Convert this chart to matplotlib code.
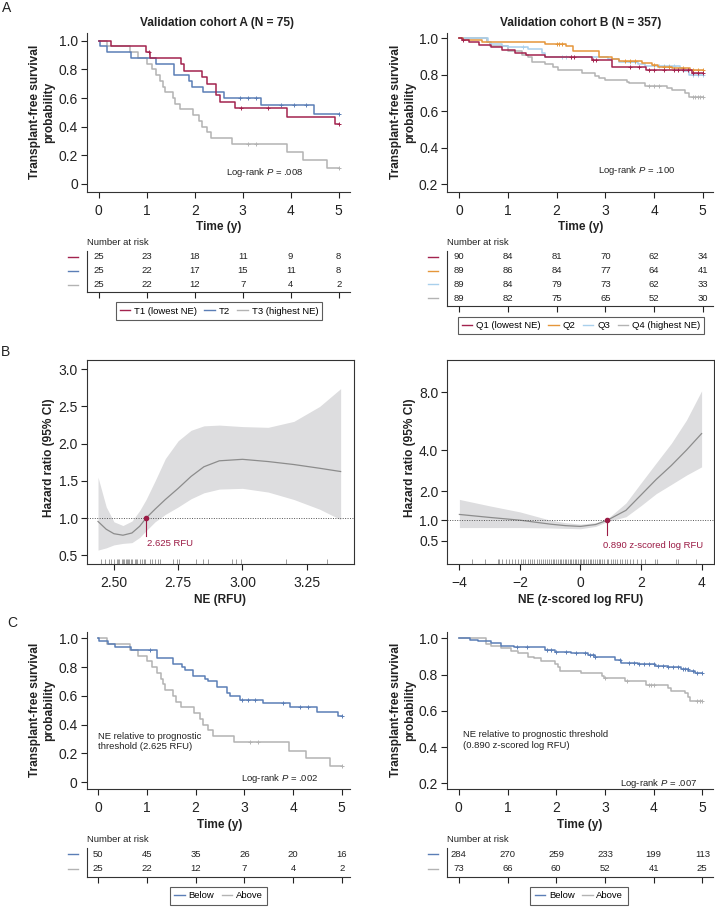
import numpy as np
import matplotlib
matplotlib.use('Agg')
import matplotlib.pyplot as plt
import matplotlib.transforms as mtransforms
from matplotlib.lines import Line2D

plt.rcParams['font.family'] = ['Liberation Sans', 'DejaVu Sans']
plt.rcParams['mathtext.fontset'] = 'custom'
plt.rcParams['mathtext.rm'] = 'Liberation Sans'
plt.rcParams['mathtext.it'] = 'Liberation Sans:italic'
plt.rcParams['axes.unicode_minus'] = True

W, H = 715, 907

RED = '#A3234E'
BLUE = '#5B7EB6'
GREY = '#B3B3B3'
ORANGE = '#E5963A'
LBLUE = '#A9D0EC'
MARK = '#9B1B45'
TXT = '#222222'

years = [0, 1, 2, 3, 4, 5]

# ---- panel A, cohort A (tertiles) ----
t1_time = [0, 0.25, 0.98, 1.07, 1.71, 1.78, 2.15, 2.25, 2.44, 2.53, 2.85, 3.92, 4.92, 5.0]
t1_surv = [1.0, 0.96, 0.92, 0.88, 0.84, 0.79, 0.75, 0.70, 0.62, 0.57, 0.53, 0.47, 0.42, 0.42]
t1_cens = [1.05, 2.97, 3.52, 5.0]
t2_time = [0, 0.02, 0.17, 0.67, 1.2, 1.56, 1.89, 1.95, 2.18, 2.61, 3.38, 4.49, 5.0]
t2_surv = [1.0, 0.96, 0.92, 0.88, 0.84, 0.76, 0.72, 0.68, 0.64, 0.60, 0.55, 0.49, 0.49]
t2_cens = [2.94, 3.12, 3.28, 3.79, 4.07, 4.31, 5.0]
t3_time = [0, 0.17, 0.65, 0.81, 1.0, 1.1, 1.2, 1.28, 1.33, 1.38, 1.54, 1.6, 1.69, 1.96,
           2.08, 2.15, 2.25, 2.35, 2.78, 3.92, 4.26, 4.75, 5.0]
t3_surv = [1.0, 0.96, 0.92, 0.88, 0.84, 0.80, 0.76, 0.72, 0.68, 0.64, 0.60, 0.56, 0.52, 0.48,
           0.44, 0.40, 0.36, 0.32, 0.28, 0.22, 0.17, 0.11, 0.11]
t3_cens = [3.12, 3.28, 5.0]
risk_t1 = [25, 23, 18, 11, 9, 8]
risk_t2 = [25, 22, 17, 15, 11, 8]
risk_t3 = [25, 22, 12, 7, 4, 2]

# ---- panel A, cohort B (quartiles) ----
q1_time = [0, 0.05, 0.2, 0.4, 0.66, 0.87, 1.14, 1.38, 1.76, 2.51, 2.72, 3.14, 3.84, 4.77, 5.0]
q1_surv = [1.0, 0.99, 0.98, 0.965, 0.95, 0.935, 0.92, 0.91, 0.90, 0.895, 0.88, 0.84, 0.826, 0.81, 0.81]
q1_cens = [0.08, 2.3, 2.35, 2.75, 2.8, 3.5, 3.7, 3.9, 4.0, 4.2, 4.4, 4.5, 4.6, 4.7, 4.8, 4.9, 5.0]
q2_time = [0, 0.08, 0.46, 1.76, 2.2, 2.34, 2.86, 3.13, 3.27, 3.75, 3.95, 4.09, 4.36, 4.74, 5.0]
q2_surv = [1.0, 0.99, 0.98, 0.97, 0.955, 0.93, 0.90, 0.885, 0.875, 0.865, 0.855, 0.845, 0.835, 0.825, 0.825]
q2_cens = [2.0, 2.05, 2.1, 3.4, 3.5, 3.6, 4.0, 4.2, 4.3, 4.6, 4.8, 4.9, 5.0]
q3_time = [0, 0.6, 0.66, 0.87, 1.0, 1.42, 1.69, 1.76, 3.06, 3.27, 3.68, 3.82, 4.53, 4.6, 4.71, 5.0]
q3_surv = [1.0, 0.98, 0.97, 0.96, 0.95, 0.94, 0.92, 0.90, 0.885, 0.87, 0.86, 0.85, 0.835, 0.82, 0.80, 0.80]
q3_cens = [1.3, 2.1, 2.2, 2.3, 3.5, 3.6, 4.1, 4.2, 4.3, 4.4, 4.8, 4.9, 5.0]
q4_time = [0, 0.56, 0.63, 1.0, 1.28, 1.42, 1.49, 1.76, 1.93, 2.03, 2.51, 2.79, 2.86, 2.99,
           3.44, 3.48, 3.82, 4.26, 4.36, 4.64, 4.71, 5.0]
q4_surv = [1.0, 0.98, 0.96, 0.93, 0.91, 0.90, 0.87, 0.86, 0.84, 0.825, 0.81, 0.795, 0.785, 0.77,
           0.76, 0.755, 0.74, 0.73, 0.715, 0.70, 0.68, 0.68]
q4_cens = [3.9, 4.0, 4.1, 4.8, 4.85, 4.9, 4.95, 5.0]
risk_q1 = [90, 84, 81, 70, 62, 34]
risk_q2 = [89, 86, 84, 77, 64, 41]
risk_q3 = [89, 84, 79, 73, 62, 33]
risk_q4 = [89, 82, 75, 65, 52, 30]

# ---- panel B, spline hazard ratios ----
ne_rfu = [2.438, 2.47, 2.50, 2.535, 2.57, 2.60, 2.625, 2.66, 2.70, 2.75, 2.80, 2.85, 2.91,
          3.0, 3.1, 3.2, 3.3, 3.382]
hr_rfu = [0.955, 0.85, 0.79, 0.77, 0.80, 0.89, 1.0, 1.12, 1.25, 1.40, 1.56, 1.69, 1.77,
          1.79, 1.76, 1.72, 1.67, 1.626]
hi_rfu = [1.55, 1.15, 0.95, 0.90, 0.96, 1.10, 1.25, 1.50, 1.80, 2.04, 2.18, 2.24, 2.25,
          2.23, 2.22, 2.30, 2.50, 2.74]
lo_rfu = [0.57, 0.60, 0.64, 0.66, 0.67, 0.74, 0.83, 0.95, 1.05, 1.15, 1.26, 1.34, 1.39,
          1.40, 1.35, 1.25, 1.12, 0.98]
rug_rfu = [2.45, 2.465, 2.48, 2.49, 2.50, 2.51, 2.515, 2.52, 2.53, 2.535, 2.54, 2.545, 2.55,
           2.555, 2.56, 2.565, 2.57, 2.58, 2.585, 2.59, 2.60, 2.61, 2.615, 2.62, 2.64, 2.65,
           2.66, 2.67, 2.68, 2.73, 2.745, 2.755, 2.82, 2.845, 2.865, 2.96, 2.975, 2.995, 3.17, 3.33]

ne_z = [-4, -3, -2, -1, -0.5, 0, 0.5, 0.89, 1.5, 2, 2.5, 3, 3.5, 4]
hr_z = [1.17, 1.08, 1.0, 0.89, 0.85, 0.83, 0.88, 1.0, 1.30, 1.85, 2.50, 3.17, 4.0, 5.0]
hi_z = [1.68, 1.45, 1.25, 1.0, 0.93, 0.89, 0.93, 1.04, 1.55, 2.35, 3.3, 4.4, 5.9, 8.1]
lo_z = [0.80, 0.80, 0.80, 0.79, 0.78, 0.77, 0.83, 0.96, 1.10, 1.46, 1.9, 2.28, 2.7, 3.1]
rug_z = [-3.58, -3.16, -2.74, -2.68, -2.6, -2.45, -2.35, -2.25, -2.17, -2.05, -1.98, -1.9,
         -1.82, -1.75, -1.66, -1.6, -1.52, -1.45, -1.38, -1.3, -1.25, -1.18, -1.1, -1.04, -0.98,
         -0.92, -0.86, -0.8, -0.74, -0.69, -0.63, -0.58, -0.52, -0.47, -0.41, -0.36, -0.3, -0.25,
         -0.19, -0.14, -0.08, -0.03, 0.02, 0.08, 0.13, 0.19, 0.24, 0.3, 0.36, 0.41, 0.47, 0.53,
         0.6, 0.66, 0.72, 0.79, 0.86, 0.92, 1.0, 1.07, 1.15, 1.22, 1.3, 1.38, 1.47, 1.55, 1.65,
         1.75, 1.88, 2.0, 2.12, 2.45, 2.52, 3.15, 3.22, 3.8]

# ---- panel C, above / below threshold ----
below_a_time = [0, 0.02, 0.2, 0.35, 0.68, 1.2, 1.54, 1.71, 1.78, 1.95, 2.19, 2.26, 2.43, 2.64,
                2.7, 2.91, 3.39, 3.94, 4.49, 4.93, 5.0]
below_a_surv = [1.0, 0.98, 0.96, 0.94, 0.92, 0.865, 0.82, 0.80, 0.78, 0.74, 0.72, 0.70, 0.66,
                0.62, 0.60, 0.57, 0.55, 0.52, 0.49, 0.46, 0.46]
below_a_cens = [1.06, 2.95, 3.08, 3.22, 3.79, 4.14, 4.31, 5.0]
risk_below_a = [50, 45, 35, 26, 20, 16]
risk_above_a = [25, 22, 12, 7, 4, 2]

below_b_time = [0, 0.22, 0.39, 0.66, 0.87, 1.14, 1.35, 1.76, 1.97, 2.31, 2.65, 2.79, 3.2, 3.34,
                3.68, 4.02, 4.29, 4.57, 4.71, 4.84, 5.0]
below_b_surv = [1.0, 0.99, 0.985, 0.975, 0.96, 0.955, 0.95, 0.935, 0.925, 0.92, 0.91, 0.90,
                0.88, 0.865, 0.86, 0.845, 0.84, 0.83, 0.82, 0.81, 0.81]
below_b_cens = [1.2, 1.4, 1.8, 1.9, 2.0, 2.2, 2.4, 2.6, 2.7, 2.75, 2.8, 3.3, 3.5, 3.6, 3.7, 3.8,
                3.9, 4.0, 4.1, 4.2, 4.3, 4.4, 4.5, 4.6, 4.65, 4.7, 4.8, 4.9, 5.0]
above_b_time = [0, 0.56, 0.66, 0.87, 1.08, 1.21, 1.42, 1.55, 1.69, 1.97, 2.03, 2.07, 2.51, 2.95,
                2.99, 3.42, 3.85, 4.29, 4.36, 4.64, 4.71, 4.74, 5.0]
above_b_surv = [1.0, 0.97, 0.96, 0.945, 0.93, 0.92, 0.90, 0.89, 0.875, 0.86, 0.84, 0.82, 0.81,
                0.795, 0.78, 0.765, 0.745, 0.725, 0.71, 0.70, 0.675, 0.655, 0.655]
above_b_cens = [3.0, 3.45, 3.9, 3.95, 4.0, 4.9, 4.95, 5.0]
risk_below_b = [284, 270, 259, 233, 199, 113]
risk_above_b = [73, 66, 60, 52, 41, 25]

fig = plt.figure(figsize=(W / 100, H / 100), dpi=100)


def box(l, t, r, b):
    return [l / W, 1 - b / H, (r - l) / W, (b - t) / H]


def ftext(x, y, s, **kw):
    fig.text(x / W, 1 - y / H, s, color=TXT, **kw)


def style(ax):
    ax.tick_params(direction='out', length=4.5, width=0.8, pad=2, labelsize=10,
                   colors=TXT)
    for sp in ax.spines.values():
        sp.set_linewidth(0.8)
        sp.set_color('#333333')


def km_axes(rect, xlim, ylim, yticks, ylabels):
    ax = fig.add_axes(box(*rect))
    style(ax)
    ax.spines[['top', 'right']].set_visible(False)
    ax.set_xlim(xlim)
    ax.set_ylim(ylim)
    ax.set_xticks(years)
    ax.set_yticks(yticks)
    ax.set_yticklabels(ylabels)
    ax.tick_params(axis='x', pad=4)
    return ax


def km_curve(ax, t, s, cens, color):
    ax.step(t, s, where='post', color=color, lw=1.1)
    s = np.asarray(s)
    idx = np.searchsorted(t, cens, side='right') - 1
    ax.plot(cens, s[idx], '+', color=color, ms=3.5, mew=0.7)


def risk_table(rect, xlim, rows, colors):
    n = len(rows)
    ax = fig.add_axes(box(*rect))
    style(ax)
    ax.spines[['top', 'right']].set_visible(False)
    ax.set_xlim(xlim)
    ax.set_ylim(n - 1 + 0.55, -0.43)
    ax.set_xticks(years)
    ax.set_xticklabels([])
    ax.set_yticks([])
    tr = mtransforms.blended_transform_factory(ax.transAxes, ax.transData)
    for i, (vals, c) in enumerate(zip(rows, colors)):
        for t, v in zip(years, vals):
            ax.text(t, i, str(v), ha='center', va='center', fontsize=6.8, color=TXT)
        ax.plot([-0.071, -0.034], [i, i], transform=tr, color=c, lw=1.0, clip_on=False)
    ax.text(0, -1.05, 'Number at risk', transform=tr, ha='left', va='center',
            fontsize=6.8, color=TXT)
    return ax


def legend(x, y, labels, colors):
    handles = [Line2D([], [], color=c, lw=1.0) for c in colors]
    leg = fig.legend(handles, labels, loc='center', bbox_to_anchor=(x / W, 1 - y / H),
                     ncol=len(labels), fontsize=6.8, frameon=True, fancybox=False,
                     handlelength=1.1, handletextpad=0.4, columnspacing=0.8,
                     borderpad=0.45, borderaxespad=0)
    leg.get_frame().set_edgecolor('#333333')
    leg.get_frame().set_linewidth(0.8)


km_ticks = [0, 0.2, 0.4, 0.6, 0.8, 1.0]
km_labels = ['0', '0.2', '0.4', '0.6', '0.8', '1.0']
ylab = 'Transplant-free survival\nprobability'

# ================= A left =================
ax = km_axes((87, 33, 350, 192), (-0.244, 5.236), (-0.056, 1.054), km_ticks, km_labels)
km_curve(ax, t3_time, t3_surv, t3_cens, GREY)
km_curve(ax, t2_time, t2_surv, t2_cens, BLUE)
km_curve(ax, t1_time, t1_surv, t1_cens, RED)
ax.text(2.65, 0.08, 'Log-rank $P$ = .008', fontsize=6.8, va='center', color=TXT)
ftext(217, 23, 'Validation cohort A (N = 75)', fontsize=8.6, fontweight='bold',
      ha='center', va='center')
ftext(42, 112, ylab, fontsize=8.6, fontweight='bold', rotation=90, ha='center',
      va='center', multialignment='center')
ftext(219, 227, 'Time (y)', fontsize=8.6, fontweight='bold', ha='center', va='center')
risk_table((87, 251, 350, 292.3), (-0.244, 5.236), [risk_t1, risk_t2, risk_t3],
           [RED, BLUE, GREY])
legend(219, 311, ['T1 (lowest NE)', 'T2', 'T3 (highest NE)'], [RED, BLUE, GREY])

# ================= A right =================
ax = km_axes((447.3, 33, 713, 191.7), (-0.246, 5.21), (0.159, 1.029), km_ticks[1:],
             km_labels[1:])
km_curve(ax, q4_time, q4_surv, q4_cens, GREY)
km_curve(ax, q3_time, q3_surv, q3_cens, LBLUE)
km_curve(ax, q2_time, q2_surv, q2_cens, ORANGE)
km_curve(ax, q1_time, q1_surv, q1_cens, RED)
ax.text(2.84, 0.275, 'Log-rank $P$ = .100', fontsize=6.8, va='center', color=TXT)
ftext(581, 23, 'Validation cohort B (N = 357)', fontsize=8.6, fontweight='bold',
      ha='center', va='center')
ftext(403, 112, ylab, fontsize=8.6, fontweight='bold', rotation=90, ha='center',
      va='center', multialignment='center')
ftext(581, 227, 'Time (y)', fontsize=8.6, fontweight='bold', ha='center', va='center')
risk_table((447.3, 251, 713, 305.7), (-0.246, 5.21),
           [risk_q1, risk_q2, risk_q3, risk_q4], [RED, ORANGE, LBLUE, GREY])
legend(581, 325.5, ['Q1 (lowest NE)', 'Q2', 'Q3', 'Q4 (highest NE)'],
       [RED, ORANGE, LBLUE, GREY])

# ================= B left =================
ax = fig.add_axes(box(86.7, 360, 354, 564.3))
style(ax)
ax.set_xlim(2.394, 3.434)
ax.set_ylim(0.379, 3.125)
ax.fill_between(ne_rfu, lo_rfu, hi_rfu, color='#DDDDDF', lw=0)
ax.plot(ne_rfu, hr_rfu, color='#8C8C8C', lw=0.9)
ax.axhline(1.0, ls=(0, (1, 1.5)), color='#555555', lw=0.7)
ax.plot([2.625, 2.625], [1.0, 0.76], color=MARK, lw=0.8)
ax.plot([2.625], [1.0], 'o', color=MARK, ms=3)
ax.text(2.63, 0.652, '2.625 RFU', color=MARK, fontsize=6.8, va='center')
tr = mtransforms.blended_transform_factory(ax.transData, ax.transAxes)
ax.vlines(rug_rfu, 0, 0.027, transform=tr, color='#777777', lw=0.5)
ax.set_yticks([0.5, 1.0, 1.5, 2.0, 2.5, 3.0])
ax.set_yticklabels(['0.5', '1.0', '1.5', '2.0', '2.5', '3.0'])
ax.set_xticks([2.5, 2.75, 3.0, 3.25])
ax.set_xticklabels(['2.50', '2.75', '3.00', '3.25'])
ax.tick_params(axis='x', pad=4)
ftext(49, 458, 'Hazard ratio (95% CI)', fontsize=8.6, fontweight='bold', rotation=90,
      ha='center', va='center')
ftext(220.5, 600, 'NE (RFU)', fontsize=8.6, fontweight='bold', ha='center', va='center')

# ================= B right =================
ax = fig.add_axes(box(447.3, 360, 714, 564.3))
style(ax)
ax.set_yscale('function', functions=(np.sqrt, np.square))
ax.set_xlim(-4.4, 4.41)
ax.set_ylim(0.137, 10.8)
ax.fill_between(ne_z, lo_z, hi_z, color='#DDDDDF', lw=0)
ax.plot(ne_z, hr_z, color='#8C8C8C', lw=0.9)
ax.axhline(1.0, ls=(0, (1, 1.5)), color='#555555', lw=0.7)
ax.plot([0.89, 0.89], [1.0, 0.617], color=MARK, lw=0.8)
ax.plot([0.89], [1.0], 'o', color=MARK, ms=3)
ax.text(0.75, 0.40, '0.890 z-scored log RFU', color=MARK, fontsize=6.8, va='center')
tr = mtransforms.blended_transform_factory(ax.transData, ax.transAxes)
ax.vlines(rug_z, 0, 0.027, transform=tr, color='#777777', lw=0.5)
ax.set_yticks([0.5, 1.0, 2.0, 4.0, 8.0])
ax.set_yticklabels(['0.5', '1.0', '2.0', '4.0', '8.0'])
ax.yaxis.set_minor_locator(matplotlib.ticker.NullLocator())
ax.set_xticks([-4, -2, 0, 2, 4])
ax.set_xticklabels(['\u22124', '\u22122', '0', '2', '4'])
ax.tick_params(axis='x', pad=4)
ftext(410, 458, 'Hazard ratio (95% CI)', fontsize=8.6, fontweight='bold', rotation=90,
      ha='center', va='center')
ftext(580.5, 600, 'NE (z-scored log RFU)', fontsize=8.6, fontweight='bold', ha='center',
      va='center')

# ================= C left =================
ax = km_axes((86.7, 631.7, 350, 789.3), (-0.238, 5.17), (-0.049, 1.046), km_ticks, km_labels)
km_curve(ax, t3_time, t3_surv, t3_cens, GREY)
km_curve(ax, below_a_time, below_a_surv, below_a_cens, BLUE)
ax.text(-0.01, 0.285, 'NE relative to prognostic\nthreshold (2.625 RFU)', fontsize=6.8,
        va='center', color=TXT)
ax.text(2.94, 0.028, 'Log-rank $P$ = .002', fontsize=6.8, va='center', color=TXT)
ftext(42, 710, ylab, fontsize=8.6, fontweight='bold', rotation=90, ha='center',
      va='center', multialignment='center')
ftext(220, 825, 'Time (y)', fontsize=8.6, fontweight='bold', ha='center', va='center')
risk_table((86.7, 848, 350, 876.7), (-0.238, 5.17), [risk_below_a, risk_above_a],
           [BLUE, GREY])
legend(218.7, 896, ['Below', 'Above'], [BLUE, GREY])

# ================= C right =================
ax = km_axes((446.7, 631.7, 713, 789.3), (-0.25, 5.22), (0.167, 1.037), km_ticks[1:],
             km_labels[1:])
km_curve(ax, above_b_time, above_b_surv, above_b_cens, GREY)
km_curve(ax, below_b_time, below_b_surv, below_b_cens, BLUE)
ax.text(0.09, 0.439, 'NE relative to prognostic threshold\n(0.890 z-scored log RFU)',
        fontsize=6.8, va='center', color=TXT)
ax.text(3.31, 0.2, 'Log-rank $P$ = .007', fontsize=6.8, va='center', color=TXT)
ftext(403, 710, ylab, fontsize=8.6, fontweight='bold', rotation=90, ha='center',
      va='center', multialignment='center')
ftext(580, 825, 'Time (y)', fontsize=8.6, fontweight='bold', ha='center', va='center')
risk_table((446.7, 848, 713, 876.7), (-0.25, 5.22), [risk_below_b, risk_above_b],
           [BLUE, GREY])
legend(579, 896, ['Below', 'Above'], [BLUE, GREY])

# panel letters
ftext(7, 8, 'A', fontsize=10, ha='center', va='center')
ftext(6, 352, 'B', fontsize=10, ha='center', va='center')
ftext(12, 623, 'C', fontsize=10, ha='center', va='center')

fig.savefig('out.png', dpi=100)
